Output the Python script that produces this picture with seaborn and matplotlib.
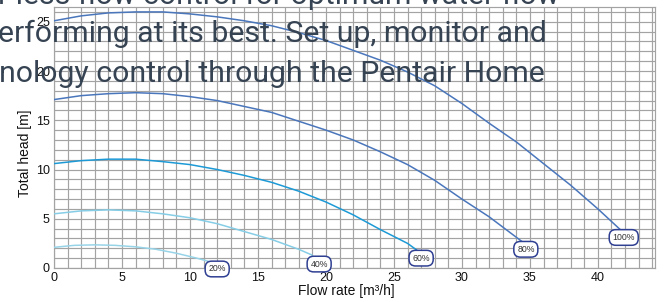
import numpy as np
import pandas as pd
import matplotlib
matplotlib.use('Agg')
import matplotlib.pyplot as plt
import seaborn as sns

# pump curves: flow [m3/h] -> head [m]
flow_100 = [0, 2, 4, 6, 8, 10, 12, 14, 16, 18, 20, 22, 24, 26, 28, 30, 32, 34, 36, 38, 40, 41.8]
head_100 = [25.1, 25.6, 25.9, 26.0, 26.0, 25.8, 25.5, 25.1, 24.6, 23.9, 23.1, 22.1, 21.1, 19.9,
            18.5, 16.7, 14.7, 12.8, 10.6, 8.4, 6.0, 3.7]
flow_80 = [0, 2, 4, 6, 8, 10, 12, 14, 16, 18, 20, 22, 24, 26, 28, 30, 32, 34.5]
head_80 = [17.1, 17.5, 17.7, 17.8, 17.7, 17.4, 17.0, 16.4, 15.8, 14.9, 14.0, 13.0, 11.8, 10.5,
           8.9, 7.0, 5.2, 2.6]
flow_60 = [0, 2, 4, 6, 8, 10, 12, 14, 16, 18, 20, 22, 24, 26, 26.7]
head_60 = [10.6, 10.9, 11.05, 11.05, 10.8, 10.5, 10.0, 9.4, 8.7, 7.8, 6.7, 5.4, 3.9, 2.5, 1.8]
flow_40 = [0, 2, 4, 6, 8, 10, 12, 14, 16, 18, 19.0]
head_40 = [5.5, 5.8, 5.9, 5.8, 5.5, 5.1, 4.5, 3.7, 2.9, 1.9, 1.3]
flow_20 = [0, 1.5, 3, 4.5, 6, 7.5, 9, 10.5, 11.7]
head_20 = [2.1, 2.3, 2.35, 2.3, 2.15, 1.9, 1.5, 1.0, 0.55]

speeds = ['100%', '80%', '60%', '40%', '20%']
label_x = [41.9, 34.7, 27.0, 19.5, 12.0]
label_y = [3.1, 1.9, 1.0, 0.4, -0.1]
colors = ['#4a76bc', '#4a76bc', '#1d9ad6', '#86cde6', '#98d4e8']

x_ticks = [0, 5, 10, 15, 20, 25, 30, 35, 40]
y_ticks = [0, 5, 10, 15, 20, 25]

overlay_lines = ['r less flow control for optimum water flow',
                 'erforming at its best. Set up, monitor and',
                 'nology control through the Pentair Home']

frames = []
for name, fx, hy in zip(speeds, [flow_100, flow_80, flow_60, flow_40, flow_20],
                        [head_100, head_80, head_60, head_40, head_20]):
    frames.append(pd.DataFrame({'flow': fx, 'head': hy, 'speed': name}))
df = pd.concat(frames, ignore_index=True)

sns.set_style('white')
plt.rcParams['font.family'] = ['Liberation Sans', 'DejaVu Sans']

fig = plt.figure(figsize=(6.67, 3.02), dpi=100)
ax = fig.add_axes([54 / 667, 34 / 302, 601 / 667, 261 / 302])

sns.lineplot(data=df, x='flow', y='head', hue='speed', palette=dict(zip(speeds, colors)),
             estimator=None, sort=False, legend=False, linewidth=1.1, ax=ax, zorder=3)

ax.set_xlim(0, 44.2)
ax.set_ylim(0, 26.5)
ax.set_xticks(x_ticks)
ax.set_yticks(y_ticks)
ax.set_xticks(np.arange(0, 45), minor=True)
ax.set_yticks(np.arange(0, 27), minor=True)
ax.grid(True, which='both', color='#a3a3a3', linewidth=0.85)
ax.set_axisbelow(True)
for s in ax.spines.values():
    s.set_color('#a3a3a3')
    s.set_linewidth(0.85)
ax.tick_params(which='both', length=0, labelsize=9, pad=3, colors='#111111')

ax.set_xlabel('Flow rate [m³/h]', fontsize=10, color='#111111')
ax.set_ylabel('Total head [m]', fontsize=10, color='#111111')
ax.xaxis.set_label_coords(0.487, -0.06)
ax.yaxis.set_label_coords(-0.036, 0.44)

for name, lx, ly in zip(speeds, label_x, label_y):
    ax.text(lx, ly, name, fontsize=6.3, color='#333333', ha='center', va='center', zorder=5,
            clip_on=False,
            bbox=dict(boxstyle='round,pad=0.38,rounding_size=0.75', fc='white',
                      ec='#2f3f92', lw=1.1))

# page text lying over the chart
baselines = [4, 42, 82]
starts = [-2, -2, -1]
ends = [566, 545, 546]
texts = []
for line, base, x0 in zip(overlay_lines, baselines, starts):
    t = fig.text(x0 / 667, 1 - base / 302, line, fontsize=20, color='#364353',
                 family=['Roboto', 'DejaVu Sans'],
                 ha='left', va='baseline', zorder=10)
    texts.append(t)
fig.canvas.draw()
r = fig.canvas.get_renderer()
w = texts[1].get_window_extent(r).width
size = 20 * (ends[1] - starts[1]) / w
for t in texts:
    t.set_fontsize(size)

fig.savefig('out.png', dpi=100)
